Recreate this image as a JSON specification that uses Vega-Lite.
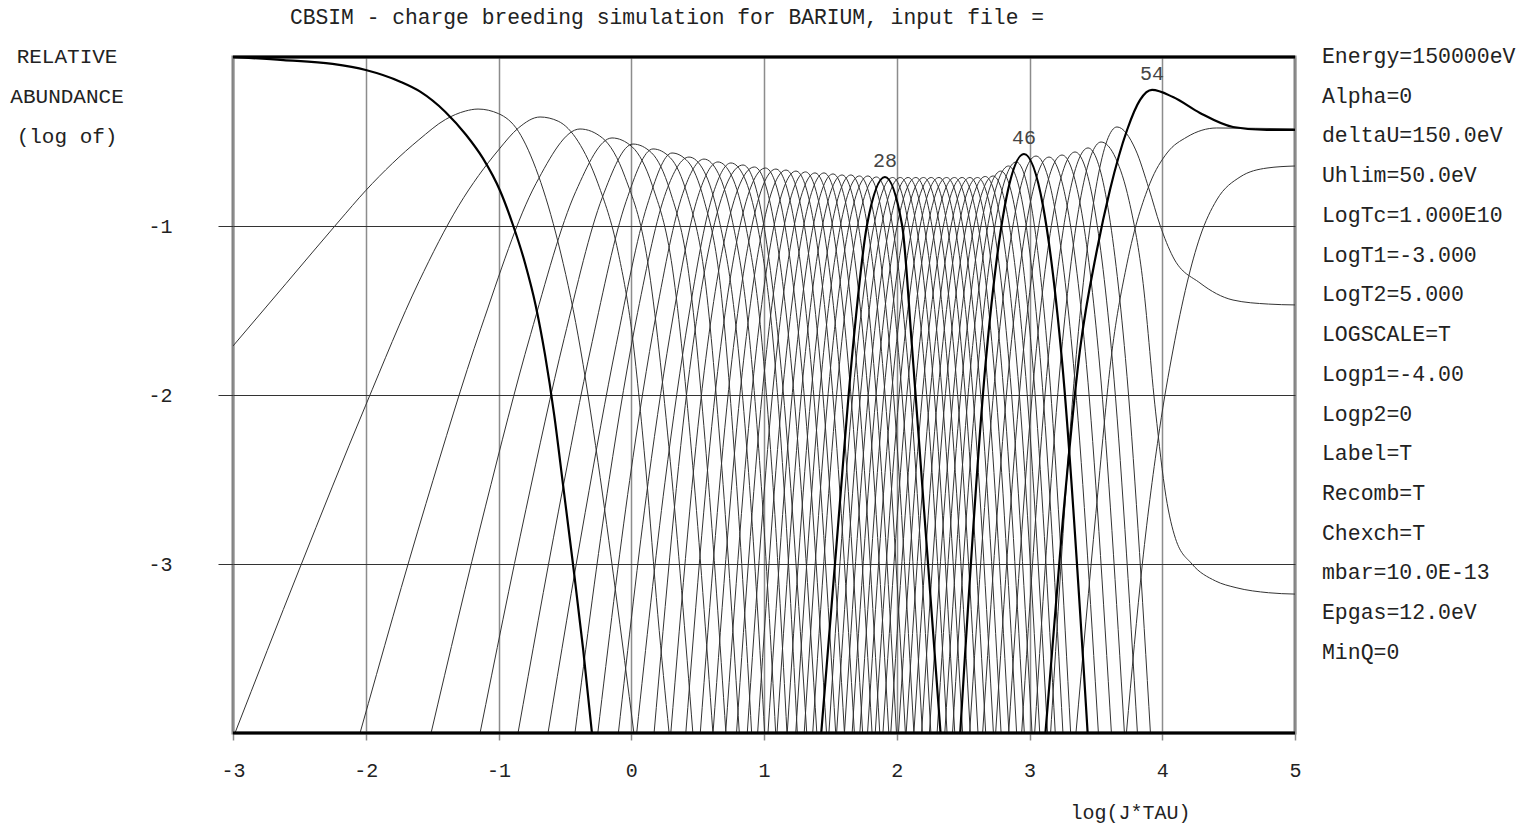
{
"$schema":"https://vega.github.io/schema/vega-lite/v6.json",
"width":1062,"height":676,
"autosize":{"type":"none"},
"padding":{"left":233,"top":57,"right":232,"bottom":91},
"background":"white",
"config":{"view":{"stroke":"#808080","strokeWidth":3},"font":"Liberation Mono"},
"datasets":{
"curves":[
{"q":1,"w":"b","x":[-3,-2.62,-2.25,-2.0,-1.74,-1.59,-1.4,-1.245,-1.117,-0.989,-0.891,-0.8,-0.72,-0.65,-0.58,-0.514,-0.439,-0.363,-0.296],"y":[0,-0.018,-0.041,-0.077,-0.146,-0.205,-0.325,-0.46,-0.6,-0.79,-0.994,-1.22,-1.47,-1.76,-2.12,-2.53,-3.0,-3.5,-4.0]},
{"q":2,"w":"n","x":[-3,-2.6,-2.2,-2.0,-1.8,-1.6,-1.4,-1.25,-1.154,-1.0,-0.85,-0.7,-0.55,-0.4,-0.25,-0.12,0.02],"y":[-1.71,-1.34,-0.97,-0.79,-0.63,-0.49,-0.37,-0.32,-0.308,-0.335,-0.44,-0.7,-1.1,-1.65,-2.4,-3.15,-4.0]},
{"q":3,"w":"n","x":[-2.985,-2.5,-2.0,-1.6,-1.3,-1.0,-0.85,-0.687,-0.55,-0.4,-0.25,-0.1,0.0,0.111,0.2,0.285],"y":[-4,-3.03,-2.06,-1.33,-0.88,-0.55,-0.42,-0.355,-0.38,-0.5,-0.75,-1.15,-1.6,-2.45,-3.3,-4.0]},
{"q":4,"w":"n","x":[-2.043,-1.546,-1.132,-0.717,-0.386,-0.216,-0.046,0.124,0.294,0.464],"y":[-4,-2.642,-1.605,-0.748,-0.426,-0.48,-0.712,-1.212,-2.392,-4]},
{"q":5,"w":"n","x":[-1.508,-1.099,-0.758,-0.418,-0.145,0.007,0.159,0.311,0.463,0.615],"y":[-4,-2.662,-1.641,-0.796,-0.479,-0.532,-0.761,-1.254,-2.416,-4]},
{"q":6,"w":"n","x":[-1.139,-0.793,-0.505,-0.217,0.013,0.153,0.293,0.433,0.573,0.713],"y":[-4,-2.676,-1.665,-0.829,-0.515,-0.567,-0.794,-1.282,-2.432,-4]},
{"q":7,"w":"n","x":[-0.853,-0.548,-0.294,-0.039,0.164,0.294,0.424,0.554,0.684,0.814],"y":[-4,-2.687,-1.684,-0.855,-0.544,-0.596,-0.82,-1.304,-2.445,-4]},
{"q":8,"w":"n","x":[-0.627,-0.347,-0.113,0.12,0.307,0.427,0.547,0.667,0.787,0.907],"y":[-4,-2.696,-1.701,-0.877,-0.568,-0.619,-0.843,-1.323,-2.456,-4]},
{"q":9,"w":"n","x":[-0.424,-0.166,0.048,0.263,0.435,0.549,0.663,0.777,0.891,1.005],"y":[-4,-2.5,-1.512,-0.796,-0.592,-0.677,-0.967,-1.512,-2.535,-4]},
{"q":10,"w":"n","x":[-0.252,-0.012,0.188,0.388,0.548,0.656,0.764,0.872,0.98,1.088],"y":[-4,-2.506,-1.521,-0.808,-0.604,-0.689,-0.978,-1.521,-2.54,-4]},
{"q":11,"w":"n","x":[-0.097,0.128,0.316,0.503,0.653,0.757,0.861,0.965,1.069,1.173],"y":[-4,-2.513,-1.533,-0.824,-0.621,-0.705,-0.993,-1.533,-2.547,-4]},
{"q":12,"w":"n","x":[0.041,0.254,0.432,0.609,0.751,0.851,0.951,1.051,1.151,1.251],"y":[-4,-2.516,-1.538,-0.829,-0.627,-0.711,-0.998,-1.538,-2.55,-4]},
{"q":13,"w":"n","x":[0.172,0.44,0.641,0.842,0.986,1.13,1.322],"y":[-4,-1.849,-0.941,-0.639,-0.941,-1.849,-4]},
{"q":14,"w":"n","x":[0.298,0.55,0.739,0.928,1.069,1.21,1.398],"y":[-4,-1.857,-0.952,-0.651,-0.952,-1.857,-4]},
{"q":15,"w":"n","x":[0.411,0.651,0.831,1.011,1.149,1.287,1.471],"y":[-4,-1.86,-0.958,-0.657,-0.958,-1.86,-4]},
{"q":16,"w":"n","x":[0.52,0.748,0.919,1.09,1.225,1.36,1.54],"y":[-4,-1.864,-0.963,-0.663,-0.963,-1.864,-4]},
{"q":17,"w":"n","x":[0.616,0.836,1.001,1.166,1.298,1.43,1.606],"y":[-4,-1.868,-0.969,-0.669,-0.969,-1.868,-4]},
{"q":18,"w":"n","x":[0.711,0.923,1.082,1.241,1.373,1.505,1.681],"y":[-4,-1.872,-0.974,-0.675,-0.974,-1.872,-4]},
{"q":19,"w":"n","x":[0.793,1.001,1.157,1.313,1.442,1.571,1.743],"y":[-4,-1.875,-0.979,-0.68,-0.979,-1.875,-4]},
{"q":20,"w":"n","x":[0.874,1.078,1.231,1.384,1.513,1.642,1.814],"y":[-4,-1.879,-0.984,-0.686,-0.984,-1.879,-4]},
{"q":21,"w":"n","x":[0.952,1.152,1.302,1.452,1.578,1.704,1.872],"y":[-4,-1.879,-0.984,-0.686,-0.984,-1.879,-4]},
{"q":22,"w":"n","x":[1.03,1.226,1.373,1.52,1.646,1.772,1.94],"y":[-4,-1.883,-0.99,-0.692,-0.99,-1.883,-4]},
{"q":23,"w":"n","x":[1.098,1.294,1.441,1.588,1.711,1.834,1.998],"y":[-4,-1.887,-0.995,-0.698,-0.995,-1.887,-4]},
{"q":24,"w":"n","x":[1.175,1.367,1.511,1.655,1.778,1.901,2.065],"y":[-4,-1.887,-0.995,-0.698,-0.995,-1.887,-4]},
{"q":25,"w":"n","x":[1.239,1.431,1.575,1.719,1.842,1.965,2.129],"y":[-4,-1.891,-1.001,-0.704,-1.001,-1.891,-4]},
{"q":26,"w":"n","x":[1.303,1.495,1.639,1.783,1.906,2.029,2.193],"y":[-4,-1.891,-1.001,-0.704,-1.001,-1.891,-4]},
{"q":27,"w":"n","x":[1.367,1.559,1.703,1.847,1.97,2.093,2.257],"y":[-4,-1.894,-1.006,-0.71,-1.006,-1.894,-4]},
{"q":28,"w":"b","x":[1.431,1.55,1.67,1.776,1.911,2.04,2.115,2.2,2.33],"y":[-4,-2.85,-1.716,-0.994,-0.71,-0.994,-1.716,-2.62,-4]},
{"q":29,"w":"n","x":[1.489,1.681,1.825,1.969,2.092,2.215,2.379],"y":[-4,-1.896,-1.009,-0.713,-1.009,-1.896,-4]},
{"q":30,"w":"n","x":[1.547,1.739,1.883,2.027,2.15,2.273,2.437],"y":[-4,-1.896,-1.009,-0.713,-1.009,-1.896,-4]},
{"q":31,"w":"n","x":[1.606,1.798,1.942,2.086,2.209,2.332,2.496],"y":[-4,-1.896,-1.009,-0.713,-1.009,-1.896,-4]},
{"q":32,"w":"n","x":[1.664,1.856,2.0,2.144,2.267,2.39,2.554],"y":[-4,-1.896,-1.009,-0.713,-1.009,-1.896,-4]},
{"q":33,"w":"n","x":[1.722,1.914,2.058,2.202,2.325,2.448,2.612],"y":[-4,-1.896,-1.009,-0.713,-1.009,-1.896,-4]},
{"q":34,"w":"n","x":[1.78,1.972,2.116,2.26,2.383,2.506,2.67],"y":[-4,-1.896,-1.009,-0.713,-1.009,-1.896,-4]},
{"q":35,"w":"n","x":[1.838,2.03,2.174,2.318,2.441,2.564,2.728],"y":[-4,-1.896,-1.009,-0.713,-1.009,-1.896,-4]},
{"q":36,"w":"n","x":[1.896,2.088,2.232,2.376,2.499,2.622,2.786],"y":[-4,-1.896,-1.009,-0.713,-1.009,-1.896,-4]},
{"q":37,"w":"n","x":[1.955,2.147,2.291,2.435,2.558,2.681,2.845],"y":[-4,-1.896,-1.009,-0.713,-1.009,-1.896,-4]},
{"q":38,"w":"n","x":[2.013,2.205,2.349,2.493,2.616,2.739,2.903],"y":[-4,-1.896,-1.009,-0.713,-1.009,-1.896,-4]},
{"q":39,"w":"n","x":[2.071,2.263,2.407,2.551,2.674,2.797,2.961],"y":[-4,-1.896,-1.009,-0.713,-1.009,-1.896,-4]},
{"q":40,"w":"n","x":[2.129,2.321,2.465,2.609,2.732,2.855,3.019],"y":[-4,-1.896,-1.009,-0.713,-1.009,-1.896,-4]},
{"q":41,"w":"n","x":[2.187,2.379,2.523,2.667,2.79,2.913,3.077],"y":[-4,-1.89,-1.003,-0.707,-1.003,-1.89,-4]},
{"q":42,"w":"n","x":[2.246,2.438,2.582,2.726,2.849,2.972,3.136],"y":[-4,-1.891,-1.001,-0.704,-1.001,-1.891,-4]},
{"q":43,"w":"n","x":[2.304,2.496,2.64,2.784,2.907,3.03,3.194],"y":[-4,-1.872,-0.974,-0.675,-0.974,-1.872,-4]},
{"q":44,"w":"n","x":[2.362,2.554,2.698,2.842,2.965,3.088,3.252],"y":[-4,-1.853,-0.947,-0.645,-0.947,-1.853,-4]},
{"q":45,"w":"n","x":[2.42,2.612,2.756,2.9,3.023,3.146,3.31],"y":[-4,-1.837,-0.925,-0.621,-0.925,-1.837,-4]},
{"q":46,"w":"b","x":[2.478,2.67,2.814,2.958,3.102,3.246,3.438],"y":[-4,-1.807,-0.882,-0.574,-0.882,-1.807,-4]},
{"q":47,"w":"n","x":[2.549,2.749,2.899,3.049,3.19,3.331,3.519],"y":[-4,-1.815,-0.893,-0.586,-0.893,-1.815,-4]},
{"q":48,"w":"n","x":[2.647,2.847,2.997,3.147,3.288,3.429,3.617],"y":[-4,-1.819,-0.899,-0.592,-0.899,-1.819,-4]},
{"q":49,"w":"n","x":[2.745,2.945,3.095,3.245,3.386,3.527,3.715],"y":[-4,-1.811,-0.888,-0.58,-0.888,-1.811,-4]},
{"q":50,"w":"n","x":[2.843,3.043,3.193,3.343,3.484,3.625,3.813],"y":[-4,-1.8,-0.871,-0.562,-0.871,-1.8,-4]},
{"q":51,"w":"n","x":[2.941,3.141,3.291,3.441,3.582,3.723,3.911],"y":[-4,-1.784,-0.85,-0.538,-0.85,-1.784,-4]},
{"q":52,"w":"n","x":[3.039,3.239,3.389,3.539,3.65,3.75,3.85,3.95,4.028,4.1,4.224,4.4,4.556,4.8,5.0],"y":[-4,-1.762,-0.818,-0.503,-0.6,-0.85,-1.3,-2.1,-2.6,-2.85,-3.0,-3.1,-3.14,-3.17,-3.178]},
{"q":53,"w":"n","x":[3.159,3.359,3.509,3.659,3.8,3.9,3.983,4.081,4.284,4.533,4.8,5.0],"y":[-4,-1.705,-0.737,-0.414,-0.55,-0.78,-0.994,-1.183,-1.337,-1.438,-1.462,-1.467]},
{"q":54,"w":"b","x":[3.12,3.25,3.38,3.508,3.606,3.735,3.833,3.923,4.081,4.284,4.533,4.789,5.0],"y":[-4,-2.75,-1.734,-1.142,-0.787,-0.432,-0.254,-0.195,-0.237,-0.331,-0.414,-0.432,-0.432]},
{"q":55,"w":"n","x":[3.35,3.5,3.62,3.735,3.908,4.036,4.187,4.41,4.7,5.0],"y":[-4,-2.7,-1.75,-1.22,-0.746,-0.568,-0.473,-0.42,-0.422,-0.425]},
{"q":56,"w":"n","x":[3.73,3.85,3.98,4.081,4.187,4.284,4.41,4.586,4.789,5.0],"y":[-4,-3.0,-2.2,-1.734,-1.337,-1.065,-0.846,-0.71,-0.657,-0.645]}
],
"peaks":[{"q":"28","x":1.911,"y":-0.71},{"q":"46","x":2.958,"y":-0.574},{"q":"54","x":3.923,"y":-0.195}]
},
"layer":[
{"data":{"name":"curves"},
 "transform":[{"flatten":["x","y"]},{"filter":"datum.w == 'n'"}],
 "mark":{"type":"line","interpolate":"monotone","stroke":"#333333","strokeWidth":1,"clip":true},
 "encoding":{
  "x":{"field":"x","type":"quantitative","scale":{"domain":[-3,5],"nice":false,"zero":false},
   "axis":{"values":[-3,-2,-1,0,1,2,3,4,5],"grid":true,"gridColor":"#8c8c8c","gridWidth":1.5,"domain":false,"tickSize":7,"tickColor":"#8c8c8c","tickWidth":1.5,"labelFlush":false,"labelFont":"Liberation Mono","labelFontSize":20,"labelColor":"#222222","labelPadding":20,"labelExpr":"'' + datum.value","title":"log(J*TAU)","titleFont":"Liberation Mono","titleFontSize":20,"titleFontWeight":"normal","titleColor":"#222222","titleX":897,"titleY":79,"titleBaseline":"middle","titleAlign":"center"}},
  "y":{"field":"y","type":"quantitative","scale":{"domain":[-4,0],"nice":false,"zero":false},
   "axis":{"values":[-1,-2,-3],"grid":true,"gridColor":"#333333","gridWidth":1,"domain":false,"tickSize":15,"tickColor":"#333333","tickWidth":1,"labelFont":"Liberation Mono","labelFontSize":20,"labelColor":"#222222","labelPadding":46,"labelExpr":"'' + datum.value","title":null}},
  "detail":{"field":"q","type":"nominal"}}},
{"data":{"name":"curves"},
 "transform":[{"flatten":["x","y"]},{"filter":"datum.w == 'b'"}],
 "mark":{"type":"line","interpolate":"monotone","stroke":"#000000","strokeWidth":2.2,"clip":true},
 "encoding":{"x":{"field":"x","type":"quantitative"},"y":{"field":"y","type":"quantitative"},"detail":{"field":"q","type":"nominal"}}},
{"data":{"values":[{"edge":0},{"edge":-4}]},
 "mark":{"type":"rule","stroke":"#000000","strokeWidth":3},
 "encoding":{"y":{"field":"edge","type":"quantitative"}}},
{"data":{"name":"peaks"},
 "mark":{"type":"text","font":"Liberation Mono","fontSize":20,"fill":"#444444","dy":-16,"baseline":"middle","align":"center"},
 "encoding":{"x":{"field":"x","type":"quantitative"},"y":{"field":"y","type":"quantitative"},"text":{"field":"q"}}},
{"data":{"values":[{}]},
 "mark":{"type":"text","text":"CBSIM - charge breeding simulation for BARIUM, input file =","font":"Liberation Mono","fontSize":21.3,"fill":"#222222","align":"left","baseline":"middle"},
 "encoding":{"x":{"datum":-2.571},"y":{"datum":0.231}}},
{"data":{"values":[{}]},
 "mark":{"type":"text","text":["RELATIVE","ABUNDANCE","(log of)"],"lineHeight":40,"font":"Liberation Mono","fontSize":21,"fill":"#222222","align":"center","baseline":"middle"},
 "encoding":{"x":{"datum":-4.25},"y":{"datum":0}}},
{"data":{"values":[{}]},
 "mark":{"type":"text","text":["Energy=150000eV","Alpha=0","deltaU=150.0eV","Uhlim=50.0eV","LogTc=1.000E10","LogT1=-3.000","LogT2=5.000","LOGSCALE=T","Logp1=-4.00","Logp2=0","Label=T","Recomb=T","Chexch=T","mbar=10.0E-13","Epgas=12.0eV","MinQ=0"],"lineHeight":39.73,"font":"Liberation Mono","fontSize":21.5,"fill":"#222222","align":"left","baseline":"middle"},
 "encoding":{"x":{"datum":5.203},"y":{"datum":0}}}
]
}
